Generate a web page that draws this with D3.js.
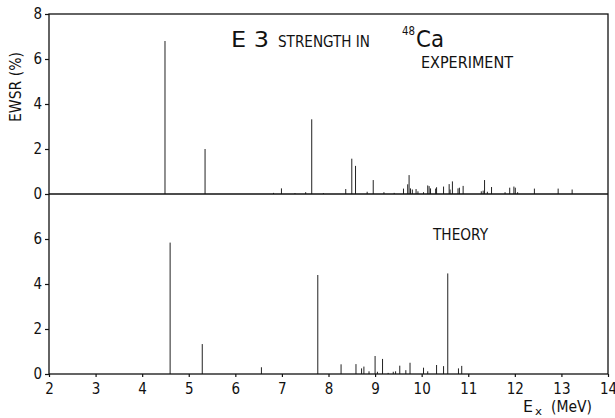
<!DOCTYPE html>
<html>
<head>
<meta charset="utf-8">
<script src="https://cdn.jsdelivr.net/npm/d3@7"></script>
<style>
  body { margin: 0; background: #fff; }
  text { font-family: "DejaVu Sans Condensed", "Liberation Sans Narrow", "DejaVu Sans", sans-serif; fill: #111; }
</style>
</head>
<body>
<div id="chart"></div>
<script>
var width = 615
var height = 418

// Experiment: excitation energy (MeV) and strength (% EWSR)
var expEnergy = [4.49, 5.35, 6.82, 6.99, 7.28, 7.51, 7.64, 7.89, 8.37, 8.50, 8.58, 8.83, 8.96, 9.19, 9.41,
  9.61, 9.70, 9.73, 9.76, 9.80, 9.88, 9.92, 10.04, 10.13, 10.16, 10.19, 10.30, 10.32, 10.47, 10.59, 10.61,
  10.66, 10.78, 10.81, 10.89, 11.28, 11.32, 11.35, 11.41, 11.50, 11.79, 11.89, 11.98, 12.01, 12.06, 12.42,
  12.93, 13.23]
var expStrength = [6.8, 2.0, 0.05, 0.25, 0.04, 0.08, 3.32, 0.04, 0.22, 1.57, 1.25, 0.1, 0.62, 0.08, 0.05,
  0.24, 0.43, 0.84, 0.25, 0.2, 0.22, 0.12, 0.08, 0.38, 0.35, 0.25, 0.24, 0.3, 0.33, 0.44, 0.2,
  0.56, 0.25, 0.28, 0.36, 0.12, 0.15, 0.62, 0.1, 0.31, 0.08, 0.28, 0.33, 0.28, 0.08, 0.24,
  0.24, 0.2]

// Theory
var thEnergy = [4.60, 5.29, 6.56, 7.77, 8.27, 8.59, 8.71, 8.76, 8.87, 9.00, 9.05, 9.16, 9.28, 9.39, 9.44,
  9.53, 9.66, 9.75, 10.04, 10.13, 10.32, 10.47, 10.56, 10.79, 10.86]
var thStrength = [5.84, 1.33, 0.3, 4.4, 0.43, 0.44, 0.25, 0.33, 0.12, 0.8, 0.1, 0.67, 0.05, 0.1, 0.12,
  0.37, 0.17, 0.5, 0.28, 0.12, 0.4, 0.35, 4.47, 0.25, 0.36]

var xTicks = [2, 3, 4, 5, 6, 7, 8, 9, 10, 11, 12, 13, 14]
var yTicksTop = [0, 2, 4, 6, 8]
var yTicksBottom = [0, 2, 4, 6]

var svg = d3.select("#chart")
    .append("svg")
    .attr("width", width)
    .attr("height", height)

// scales: both panels share x, each panel 0..8
var x = d3.scaleLinear().domain([2, 14]).range([49, 608])
var yTop = d3.scaleLinear().domain([0, 8]).range([194, 14])
var yBot = d3.scaleLinear().domain([0, 8]).range([374, 194])

function pairs(e, s) { return e.map(function (v, i) { return { e: v, s: s[i] } }) }

// spectrum lines
function drawLines(data, y) {
    svg.append("g")
        .selectAll("line")
        .data(data)
        .enter()
        .append("line")
        .attr("x1", function (d) { return x(d.e) })
        .attr("x2", function (d) { return x(d.e) })
        .attr("y1", y(0))
        .attr("y2", function (d) { return y(d.s) })
        .attr("stroke", "#222")
        .attr("stroke-width", 1)
}
drawLines(pairs(expEnergy, expStrength), yTop)
drawLines(pairs(thEnergy, thStrength), yBot)

// frame
svg.append("rect")
    .attr("x", x(2)).attr("y", yTop(8))
    .attr("width", x(14) - x(2)).attr("height", yBot(0) - yTop(8))
    .attr("fill", "none").attr("stroke", "#111").attr("stroke-width", 1.3)
svg.append("line")
    .attr("x1", x(2)).attr("x2", x(14))
    .attr("y1", yTop(0)).attr("y2", yTop(0))
    .attr("stroke", "#111").attr("stroke-width", 1.5)

// axes
function styleAxis(g) {
    g.select(".domain").remove()
    g.selectAll(".tick line").attr("stroke", "#111").attr("stroke-width", 1.2)
    g.selectAll(".tick text").style("font-size", "15px").attr("fill", "#111")
}
svg.append("g")
    .attr("transform", "translate(0," + yBot(0) + ")")
    .call(d3.axisBottom(x).tickValues(xTicks).tickSize(3).tickPadding(6).tickFormat(d3.format("d")))
    .call(styleAxis)
svg.append("g")
    .attr("transform", "translate(" + x(2) + ",0)")
    .call(d3.axisLeft(yTop).tickValues(yTicksTop).tickSize(4).tickPadding(3).tickFormat(d3.format("d")))
    .call(styleAxis)
svg.append("g")
    .attr("transform", "translate(" + x(2) + ",0)")
    .call(d3.axisLeft(yBot).tickValues(yTicksBottom).tickSize(4).tickPadding(3).tickFormat(d3.format("d")))
    .call(styleAxis)

// titles
function label(txt, px, py, size, len) {
    var t = svg.append("text").attr("x", px).attr("y", py).style("font-size", size + "px").text(txt)
    if (len) t.attr("textLength", len).attr("lengthAdjust", "spacingAndGlyphs")
    return t
}
label("E 3", 231, 47, 21, 38)
label("STRENGTH IN", 278, 47, 15, 92)
label("48", 402, 35, 12, 13)
label("Ca", 416, 47, 23, 28)
label("EXPERIMENT", 421, 68, 15, 92)
label("THEORY", 433, 240, 15, 55)

label("E", 523, 412, 15, 10)
label("x", 535, 415, 11, 7)
label("(MeV)", 551, 412, 15, 41)

svg.append("text")
    .attr("transform", "translate(21,87) rotate(-90)")
    .attr("text-anchor", "middle")
    .style("font-size", "15px")
    .attr("textLength", 70).attr("lengthAdjust", "spacingAndGlyphs")
    .text("EWSR (%)")
</script>
</body>
</html>
